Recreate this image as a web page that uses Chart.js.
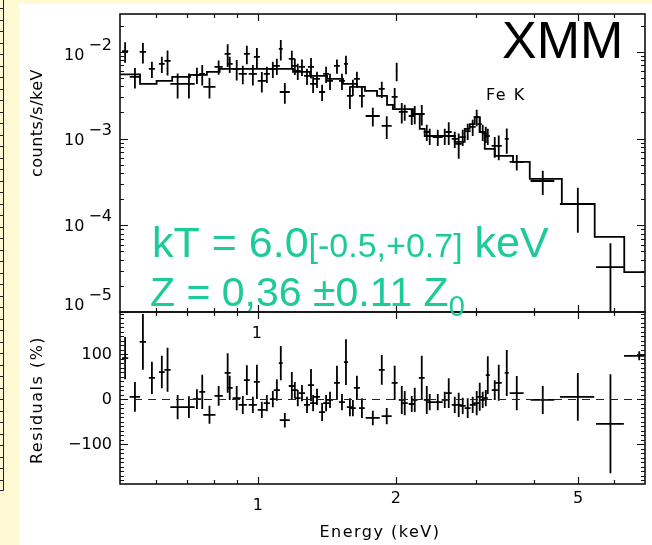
<!DOCTYPE html>
<html>
<head>
<meta charset="utf-8">
<script src="https://cdn.jsdelivr.net/npm/chart.js@4"></script>
<style>
  html, body { margin: 0; padding: 0; background: #fff9d4; overflow: hidden; }
  #wrap { position: relative; width: 652px; height: 545px; overflow: hidden; }
  #wrap canvas { position: absolute; left: 0; top: 0; }
</style>
</head>
<body>
<div id="wrap">
  <canvas id="spec" width="652" height="545"></canvas>
  <canvas id="resid" width="652" height="545"></canvas>
</div>
<script>
// XMM spectrum: counts/s/keV per energy bin, with the fitted model and residuals

// bin centre and half width (keV)
const energy = [
  0.513, 0.539, 0.561, 0.587, 0.617, 0.635, 0.668, 0.707, 0.736, 0.756,
  0.784, 0.821, 0.859, 0.868, 0.899, 0.927, 0.946, 0.975, 0.995, 1.020,
  1.046, 1.078, 1.100, 1.122, 1.145, 1.186, 1.204, 1.222, 1.248, 1.280,
  1.306, 1.320, 1.346, 1.381, 1.409, 1.437, 1.488, 1.526, 1.557, 1.588,
  1.612, 1.645, 1.687, 1.782, 1.864, 1.911, 1.989, 2.009, 2.061, 2.092,
  2.167, 2.200, 2.279, 2.337, 2.372, 2.470, 2.558, 2.610, 2.690, 2.744,
  2.800, 2.871, 2.944, 3.004, 3.050, 3.096, 3.144, 3.176, 3.289, 3.356,
  3.494, 3.674, 4.187, 4.994, 5.884, 6.80
];
const halfWidth = [
  0.008, 0.014, 0.009, 0.009, 0.009, 0.010, 0.024, 0.021, 0.015, 0.011,
  0.024, 0.017, 0.013, 0.013, 0.018, 0.019, 0.014, 0.020, 0.015, 0.021,
  0.016, 0.016, 0.017, 0.011, 0.029, 0.018, 0.018, 0.018, 0.019, 0.019,
  0.020, 0.020, 0.020, 0.021, 0.021, 0.022, 0.022, 0.023, 0.016, 0.024,
  0.024, 0.025, 0.025, 0.063, 0.028, 0.048, 0.030, 0.010, 0.031, 0.032,
  0.033, 0.033, 0.034, 0.035, 0.036, 0.062, 0.039, 0.039, 0.041, 0.041,
  0.042, 0.043, 0.044, 0.045, 0.031, 0.031, 0.032, 0.032, 0.050, 0.051,
  0.035, 0.129, 0.25, 0.43, 0.41, 0.5
];
// observed rate and 1-sigma error (counts/s/keV)
const rate = [
  1.02e-2, 5.13e-3, 9.98e-3, 6.35e-3, 7.25e-3, 7.85e-3, 4.26e-3, 4.26e-3, 5.42e-3, 5.56e-3,
  3.94e-3, 6.70e-3, 9.46e-3, 7.25e-3, 6.35e-3, 5.56e-3, 9.46e-3, 5.56e-3, 8.73e-3, 4.62e-3,
  5.56e-3, 6.35e-3, 6.88e-3, 1.08e-2, 3.44e-3, 8.28e-3, 6.88e-3, 6.02e-3, 6.70e-3, 5.27e-3,
  6.70e-3, 4.26e-3, 4.87e-3, 3.44e-3, 5.56e-3, 4.62e-3, 6.88e-3, 4.62e-3, 7.25e-3, 3.10e-3,
  3.94e-3, 4.87e-3, 3.10e-3, 1.82e-3, 3.73e-3, 1.40e-3, 3.02e-3, 6.02e-3, 2.03e-3, 2.03e-3,
  1.82e-3, 1.92e-3, 1.92e-3, 1.19e-3, 1.07e-3, 1.04e-3, 1.07e-3, 1.19e-3, 9.89e-4, 8.66e-4,
  1.04e-3, 1.22e-3, 1.36e-3, 1.77e-3, 1.47e-3, 1.19e-3, 1.13e-3, 1.07e-3, 8.22e-4, 8.22e-4,
  9.89e-4, 5.37e-4, 3.24e-4, 1.76e-4, 3.30e-5, null
];
const rateErr = [
  2.7e-3, 1.36e-3, 2.65e-3, 1.35e-3, 1.54e-3, 2.5e-3, 1.36e-3, 1.36e-3, 1.15e-3, 1.48e-3,
  1.05e-3, 1.25e-3, 2.77e-3, 1.54e-3, 1.69e-3, 1.33e-3, 2.26e-3, 1.48e-3, 2.32e-3, 1.23e-3,
  1.18e-3, 1.35e-3, 1.46e-3, 2.87e-3, 9.2e-4, 1.98e-3, 1.46e-3, 1.28e-3, 1.43e-3, 1.12e-3,
  1.78e-3, 9.1e-4, 1.04e-3, 7.3e-4, 1.18e-3, 9.8e-4, 1.28e-3, 9.8e-4, 1.74e-3, 9.1e-4,
  8.4e-4, 1.04e-3, 8.2e-4, 4.4e-4, 7.9e-4, 4.1e-4, 8.0e-4, 1.44e-3, 5.4e-4, 4.3e-4,
  3.9e-4, 4.6e-4, 5.1e-4, 2.5e-4, 2.3e-4, 2.2e-4, 2.3e-4, 3.5e-4, 2.1e-4, 2.8e-4,
  2.2e-4, 2.6e-4, 2.9e-4, 3.8e-4, 3.1e-4, 2.5e-4, 2.4e-4, 2.3e-4, 2.2e-4, 2.6e-4,
  3.2e-4, 1.1e-4, 1.0e-4, 9.4e-5, 2.9e-5, null
];
// residuals (%) and their errors
const resid = [
  92, 6, 128, 48, 61, 66, -17, -17, 1, 17,
  -34, 8, 59, 26, 3, -12, 43, -12, 39, -23,
  -8, 1, 21, 81, -46, 30, 21, 3, 14, -12,
  32, -8, 6, -28, -8, -1, 37, -6, 83, -17,
  -19, 26, -19, -41, 66, -37, 37, null, -1, -8,
  -10, -1, 48, -1, -6, -6, -1, 14, -12, -12,
  -14, -19, -12, -8, 6, -1, 3, 54, 21, 37,
  59, 14, -1, 6, -54, 97
];
const residErr = [
  47, 33, 62, 36, 36, 49, 27, 24, 22, 38,
  20, 22, 44, 27, 27, 20, 33, 18, 38, 18,
  18, 18, 24, 38, 16, 31, 18, 18, 18, 18,
  36, 18, 18, 20, 18, 18, 38, 18, 51, 20,
  18, 27, 22, 16, 33, 18, 38, null, 31, 27,
  18, 27, 49, 31, 18, 18, 18, 33, 18, 27,
  18, 22, 18, 27, 31, 18, 18, 42, 22, 40,
  51, 38, 31, 53, 110, 10
];

// folded model, one value per channel starting at each edge
const modelEdges = [
  0.50, 0.553, 0.601, 0.650, 0.711, 0.774, 0.825, 1.193, 1.300, 1.416,
  1.534, 1.646, 1.713, 1.820, 1.914, 1.972, 2.181, 2.256, 2.313, 2.690,
  2.828, 2.900, 2.974, 3.050, 3.128, 3.289, 3.606, 3.922, 4.608, 5.436,
  6.307
];
const modelRate = [
  5.5e-3, 4.26e-3, 4.62e-3, 5.13e-3, 5.42e-3, 5.86e-3, 6.35e-3, 5.86e-3, 5.27e-3, 4.87e-3,
  4.26e-3, 3.94e-3, 3.54e-3, 3.10e-3, 2.44e-3, 2.19e-3, 1.92e-3, 1.29e-3, 1.07e-3, 9.14e-4,
  1.29e-3, 1.47e-3, 1.77e-3, 1.19e-3, 7.59e-4, 6.30e-4, 5.37e-4, 3.42e-4, 1.76e-4, 7.33e-5,
  2.89e-5
];

const xMajor = [1, 2, 5];
const xMinor = [0.6, 0.7, 0.8, 0.9, 3, 4, 6];
const residLabels = [100, 0, -100];

const E_MIN = 0.5, E_MAX = 7;
const RATE_MIN = 1e-5, RATE_MAX = 2.73e-2;
const RES_MIN = -187.8, RES_MAX = 194.4;

const green = '#1ccb97';
const labelFont = '16px "DejaVu Sans"';

// crosses: horizontal bin bar + vertical error bar, separated by gaps
function crosses(xs, dx, ys, dy, floor) {
  const pts = [];
  xs.forEach((x, i) => {
    const y = ys[i];
    if (y == null) return;
    pts.push({x: x - dx[i], y: y}, {x: x + dx[i], y: y}, {x: x, y: null});
    pts.push({x: x, y: Math.max(y - dy[i], floor)}, {x: x, y: y + dy[i]}, {x: x, y: null});
  });
  return pts;
}

function stepData(edges, vals, xmax) {
  const pts = edges.map((e, i) => ({x: e, y: vals[i]}));
  pts.push({x: xmax, y: vals[vals.length - 1]});
  return pts;
}

function tickMarks(chart, yTicks) {
  const {ctx, chartArea: a, scales: {x, y}} = chart;
  ctx.save();
  ctx.strokeStyle = '#111';
  ctx.lineWidth = 1.6;
  ctx.strokeRect(a.left, a.top, a.right - a.left, a.bottom - a.top);
  ctx.lineWidth = 1.2;
  ctx.beginPath();
  const xt = xMajor.map(v => [v, 7]).concat(xMinor.map(v => [v, 4]));
  xt.forEach(([v, len]) => {
    const px = Math.round(x.getPixelForValue(v)) + 0.5;
    ctx.moveTo(px, a.top); ctx.lineTo(px, a.top + len);
    ctx.moveTo(px, a.bottom); ctx.lineTo(px, a.bottom - len);
  });
  yTicks.forEach(([v, len]) => {
    const py = Math.round(y.getPixelForValue(v)) + 0.5;
    ctx.moveTo(a.left, py); ctx.lineTo(a.left + len, py);
    ctx.moveTo(a.right, py); ctx.lineTo(a.right - len, py);
  });
  ctx.stroke();
  ctx.restore();
}

function spaced(ctx, px) {
  if ('letterSpacing' in ctx) ctx.letterSpacing = px + 'px';
}

const specDecor = {
  id: 'specDecor',
  beforeDraw(chart) {
    const ctx = chart.ctx;
    ctx.save();
    ctx.fillStyle = '#fff9d4';
    ctx.fillRect(0, 0, 652, 545);
    ctx.fillStyle = '#ffffff';
    ctx.fillRect(19, 4, 633, 541);
    // edge of the neighbouring panel
    ctx.strokeStyle = '#222';
    ctx.lineWidth = 1;
    ctx.beginPath();
    ctx.moveTo(3.5, 0); ctx.lineTo(3.5, 490.5); ctx.lineTo(0, 490.5);
    for (let t = 8; t < 490; t += 11.5) {
      const ty = Math.round(t) + 0.5;
      ctx.moveTo(0, ty); ctx.lineTo(3.5, ty);
    }
    ctx.stroke();
    ctx.restore();
  },
  afterDraw(chart) {
    const ctx = chart.ctx;
    const y = chart.scales.y;
    const yt = [];
    for (let n = -5; n <= -2; n++) {
      yt.push([Math.pow(10, n), 8]);
      for (let k = 2; k <= 9; k++) {
        const v = k * Math.pow(10, n);
        if (v < RATE_MAX) yt.push([v, 4]);
      }
    }
    tickMarks(chart, yt);

    ctx.save();
    ctx.fillStyle = '#000';
    ctx.font = labelFont;
    ctx.textBaseline = 'middle';
    const labelShift = {'-2': 4, '-3': 2.5, '-4': 2, '-5': -6};
    for (let n = -5; n <= -2; n++) {
      const yc = y.getPixelForValue(Math.pow(10, n)) + labelShift[n];
      const ex = '\u2212' + Math.abs(n);
      ctx.textAlign = 'right';
      ctx.fillText(ex, 112, yc - 10);
      const we = ctx.measureText(ex).width;
      ctx.fillText('10', 112 - we - 4, yc);
    }
    // axis title
    ctx.save();
    ctx.translate(38, 123);
    ctx.rotate(-Math.PI / 2);
    ctx.textAlign = 'center';
    spaced(ctx, 0.5);
    ctx.fillText('counts/s/keV', 0, 0);
    ctx.restore();

    spaced(ctx, 1.5);
    ctx.textAlign = 'left';
    ctx.textBaseline = 'alphabetic';
    ctx.fillText('Fe K', 486, 100);
    spaced(ctx, 0);
    ctx.font = '52px "Liberation Sans"';
    ctx.fillText('XMM', 502, 58);
    ctx.restore();
  }
};

const residDecor = {
  id: 'residDecor',
  afterDraw(chart) {
    const ctx = chart.ctx;
    const {x, y} = chart.scales;
    const yt = [];
    for (let v = -180; v <= 190; v += 10) yt.push([v, v % 100 === 0 ? 8 : 4]);
    tickMarks(chart, yt);

    ctx.save();
    ctx.fillStyle = '#000';
    ctx.font = labelFont;
    ctx.textBaseline = 'middle';
    ctx.textAlign = 'right';
    residLabels.forEach(v => {
      const txt = v < 0 ? '\u2212' + Math.abs(v) : String(v);
      ctx.fillText(txt, 112, y.getPixelForValue(v) + 0.5);
    });
    ctx.textAlign = 'center';
    xMajor.forEach(v => {
      ctx.fillText(String(v), x.getPixelForValue(v), v === 1 ? 506 : 499);
    });
    // tick label left over from the upper panel
    ctx.fillText('1', x.getPixelForValue(1) - 1, 334);

    ctx.save();
    ctx.translate(38, 400);
    ctx.rotate(-Math.PI / 2);
    spaced(ctx, 1.5);
    ctx.fillText('Residuals (%)', 0, 0);
    ctx.restore();

    spaced(ctx, 1.5);
    ctx.textBaseline = 'alphabetic';
    ctx.fillText('Energy (keV)', 380, 537);
    spaced(ctx, 0);

    // fit results
    ctx.fillStyle = green;
    ctx.textAlign = 'left';
    let cx = 152;
    ctx.font = '43px "Liberation Sans"';
    ctx.fillText('kT = 6.0', cx, 257);
    cx += ctx.measureText('kT = 6.0').width;
    ctx.font = '34px "Liberation Sans"';
    ctx.fillText('[-0.5,+0.7]', cx, 257);
    cx += ctx.measureText('[-0.5,+0.7]').width;
    ctx.font = '43px "Liberation Sans"';
    ctx.fillText(' keV', cx, 257);

    cx = 150;
    ctx.font = '41px "Liberation Sans"';
    ctx.fillText('Z = 0,36 \u00b10.11 Z', cx, 306);
    cx += ctx.measureText('Z = 0,36 \u00b10.11 Z').width;
    ctx.font = '29px "Liberation Sans"';
    ctx.fillText('0', cx, 316);
    ctx.restore();
  }
};

const baseOptions = (padding, yScale) => ({
  responsive: false,
  animation: false,
  devicePixelRatio: 1,
  layout: {padding: padding},
  plugins: {legend: {display: false}, tooltip: {enabled: false}},
  elements: {point: {radius: 0}, line: {tension: 0}},
  scales: {
    x: {type: 'logarithmic', min: E_MIN, max: E_MAX, display: false},
    y: yScale
  }
});

new Chart(document.getElementById('spec'), {
  type: 'line',
  data: {
    datasets: [
      {
        data: stepData(modelEdges, modelRate, E_MAX),
        stepped: 'before',
        borderColor: '#000',
        borderWidth: 1.8
      },
      {
        data: crosses(energy, halfWidth, rate, rateErr, 1e-7),
        borderColor: '#000',
        borderWidth: 1.8,
        spanGaps: false
      }
    ]
  },
  options: baseOptions({left: 120, right: 7, top: 14, bottom: 233},
    {type: 'logarithmic', min: RATE_MIN, max: RATE_MAX, display: false}),
  plugins: [specDecor]
});

new Chart(document.getElementById('resid'), {
  type: 'line',
  data: {
    datasets: [
      {
        data: [{x: E_MIN, y: 0}, {x: E_MAX, y: 0}],
        borderColor: '#222',
        borderWidth: 1.2,
        borderDash: [8, 6]
      },
      {
        data: crosses(energy, halfWidth, resid, residErr, -1000),
        borderColor: '#000',
        borderWidth: 1.8,
        spanGaps: false
      }
    ]
  },
  options: baseOptions({left: 120, right: 7, top: 312, bottom: 61},
    {type: 'linear', min: RES_MIN, max: RES_MAX, display: false}),
  plugins: [residDecor]
});
</script>
</body>
</html>
